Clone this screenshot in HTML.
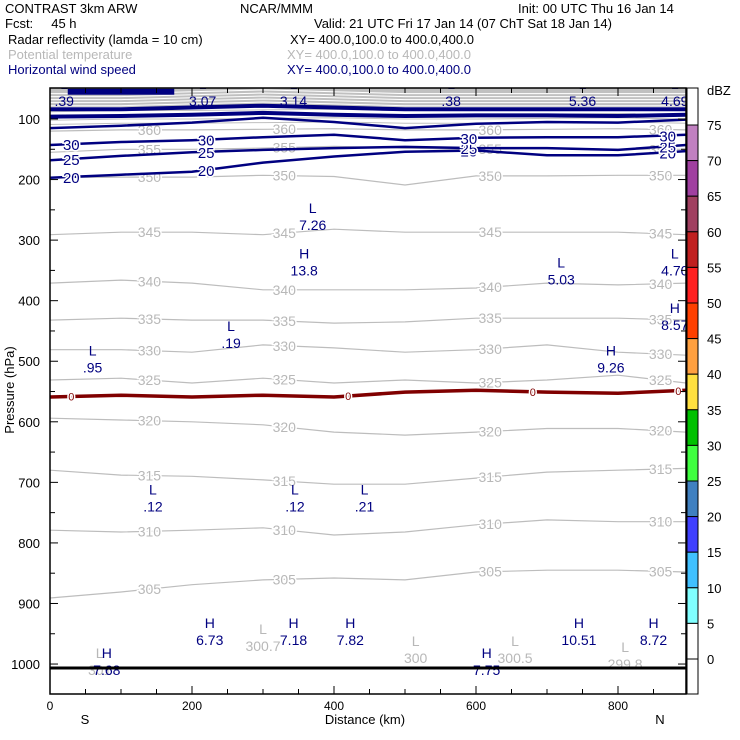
<!DOCTYPE html>
<html><head><meta charset="utf-8"><style>
body{margin:0;background:#fff;}
svg{display:block;font-family:"Liberation Sans",sans-serif;}
</style></head><body>
<svg id="c" width="740" height="740" viewBox="0 0 740 740" xmlns="http://www.w3.org/2000/svg">
<g font-size="13" fill="#000">
<text x="5" y="13">CONTRAST  3km ARW</text>
<text x="240" y="13">NCAR/MMM</text>
<text x="518" y="13">Init: 00 UTC Thu 16 Jan 14</text>
<text x="5" y="28" xml:space="preserve">Fcst:     45 h</text>
<text x="314" y="28">Valid: 21 UTC Fri 17 Jan 14 (07 ChT Sat 18 Jan 14)</text>
<text x="8" y="44">Radar reflectivity (lamda = 10 cm)</text>
<text x="290" y="44">XY= 400.0,100.0 to 400.0,400.0</text>
<text x="8" y="59" fill="#b8b8b8">Potential temperature</text>
<text x="287" y="59" fill="#b8b8b8">XY= 400.0,100.0 to 400.0,400.0</text>
<text x="8" y="74" fill="#000080">Horizontal wind speed</text>
<text x="287" y="74" fill="#000080">XY= 400.0,100.0 to 400.0,400.0</text>
</g>
<g id="plot"></g>
<g id="cbar"></g>
</svg>
<script>
const kmGrid=[0,100,200,300,400,500,600,700,800,900];
const thetaLevels=[360,355,350,345,340,335,330,325,320,315,310,305];
const theta360=[120,118,118,117,116,118,118,117,116,118];
const theta355=[155,150,150,148,145,148,150,148,150,150];
const theta350=[197,196,196,193,195,209,194,194,193,193];
const theta345=[291,287,287,291,282,287,287,287,287,291];
const theta340=[371,366,371,382,382,382,379,371,374,371];
const theta335=[432,429,432,432,437,435,429,429,429,432];
const theta330=[481,481,485,473,478,485,481,473,485,490];
const theta325=[531,528,536,528,536,531,536,531,523,536];
const theta320=[594,597,600,605,617,622,617,611,611,617];
const theta315=[680,688,690,696,703,703,693,683,680,677];
const theta310=[779,782,779,775,787,782,770,762,765,765];
const theta305=[891,881,869,861,858,861,848,845,845,848];
const thetaSeries=[theta360,theta355,theta350,theta345,theta340,theta335,theta330,theta325,theta320,theta315,theta310,theta305];
const freezing=[559,556,559,556,559,551,548,551,553,548];
const windLevels=[20,25,30,35,40,45];
const wind20=[197,192,187,172,162,154,152,160,160,153];
const wind25=[168,161,155,151,148,146,148,148,151,143];
const wind30=[143,138,135,130,126,135,131,130,130,126];
const wind35=[115,111,106,98,105,115,108,105,106,101];
const wind40=[96,95,93,90,93,95,94,94,95,93];
const wind45=[84,84,81,78,81,84,84,84,84,84];
const windSeries=[wind20,wind25,wind30,wind35,wind40,wind45];
const extremaLabels=[
 ["L",".39",20,70],["L","3.07",215,70],["L","3.14",343,70],["L",".38",565,70],["L","5.36",750,70],["L","4.69",880,70],
 ["L","7.26",370,275],["H","13.8",358,350],["L","5.03",720,365],["L","4.70",880,350],["H","8.57",880,440],
 ["L",".19",255,470],["L",".95",60,510],["H","9.26",790,510],
 ["L",".12",145,740],["L",".12",345,740],["L",".21",443,740],
 ["H","6.73",225,960],["H","7.18",343,960],["H","7.82",423,960],["H","10.51",745,960],["H","8.72",850,960],
 ["H","7.68",80,1010],["H","7.75",615,1010]];
const thetaMinLabels=[["L","300.7",300,970],["L","300",515,990],["L","300.5",655,990],["L","299.8",810,1000],["L","301",70,1010]];
const pTicks=[100,200,300,400,500,600,700,800,900,1000];
const xTicks=[0,200,400,600,800];
const dbzLevels=[75,70,65,60,55,50,45,40,35,30,25,20,15,10,5,0];
const dbzColors=["#c080c0","#a040a0","#a04060","#c02020","#ff2020","#ff4000","#ffa040","#ffe040","#00c000","#40ff40","#4080c0","#4040ff","#40c0ff","#80ffff","#ffffff"];

const NS="http://www.w3.org/2000/svg";
const X0=50,X1=686,Y0=88,Y1=694;
const xs=km=>X0+km*0.71;
const ys=p=>119+(p-100)*0.6056;
const plot=document.getElementById('plot');
function mk(tag,a,parent){const e=document.createElementNS(NS,tag);for(const k in a)e.setAttribute(k,a[k]);(parent||plot).appendChild(e);return e;}
function pathOf(arr){return arr.map((p,i)=>(i?'L':'M')+xs(Math.min(kmGrid[i],896)).toFixed(1)+','+ys(p).toFixed(1)).join(' ');}

const defs=mk('defs',{});
const cp=mk('clipPath',{id:'clip'},defs);mk('rect',{x:X0,y:Y0,width:X1-X0,height:Y1-Y0},cp);
const g=mk('g',{'clip-path':'url(#clip)'});

const band=mk('rect',{x:X0,y:Y0,width:X1-X0,height:ys(80)-Y0,fill:'#c0c0c0'},g);


for(let k=0;k<5;k++){
 const l=mk('path',{d:pathOf(wind45.map(v=>v-26+k*5)),stroke:'#fff','stroke-width':1,fill:'none'},g);
 
 
}
for(let k=0;k<4;k++){
 const l=mk('path',{d:pathOf(theta360.map(v=>v-32+k*7)),stroke:'#c0c0c0','stroke-width':1,fill:'none'},g);
 
 
}
thetaSeries.forEach((s,i)=>{
 const l=mk('path',{d:pathOf(s),stroke:'#bdbdbd','stroke-width':1.2,fill:'none'},g);
 
 
 [140,330,620,860].forEach(km=>{
  const idx=Math.min(8,Math.floor(km/100));const f=(km-kmGrid[idx])/100;
  const p=s[idx]+(s[idx+1]-s[idx])*f;
  const tt=mk('text',{x:xs(km),y:ys(p)+5,'font-size':14,fill:'#b8b8b8','text-anchor':'middle',stroke:'#fff','stroke-width':3,'paint-order':'stroke'},g);
  tt.textContent=thetaLevels[i];
  
  
 });
});
windSeries.forEach((s,i)=>{
 const l=mk('path',{d:pathOf(s),stroke:'#000080','stroke-width':i>=4?4:2.5,fill:'none'},g);
 
 
 if(i<3){[30,220,590,870].forEach(km=>{
  const idx=Math.min(8,Math.floor(km/100));const f=(km-kmGrid[idx])/100;
  const p=s[idx]+(s[idx+1]-s[idx])*f;
  const tt=mk('text',{x:xs(km),y:ys(p)+6,'font-size':15,fill:'#000080','text-anchor':'middle',stroke:'#fff','stroke-width':3,'paint-order':'stroke'},g);
  tt.textContent=windLevels[i];
  
  
 });}
});
const jet=mk('rect',{x:xs(25),y:ys(50),width:xs(175)-xs(25),height:6,fill:'#000080'},g);


const fz=mk('path',{d:pathOf(freezing),stroke:'#800000','stroke-width':3.5,fill:'none'},g);


[30,420,680,885].forEach(km=>{
 const idx=Math.min(8,Math.floor(km/100));const f=(km-kmGrid[idx])/100;
 const p=freezing[idx]+(freezing[idx+1]-freezing[idx])*f;
 const tt=mk('text',{x:xs(km),y:ys(p)+4,'font-size':11,fill:'#800000','text-anchor':'middle',stroke:'#fff','stroke-width':3,'paint-order':'stroke'},g);
 tt.textContent='0';
 
 
});
thetaMinLabels.forEach(a=>{
 const tt=mk('text',{x:xs(a[2]),y:ys(a[3])-12,'font-size':14,fill:'#b8b8b8','text-anchor':'middle'},g);
 tt.textContent=a[0];
 const v=mk('text',{x:xs(a[2]),y:ys(a[3])+5,'font-size':14,fill:'#b8b8b8','text-anchor':'middle'},g);
 v.textContent=a[1];
});
extremaLabels.forEach(a=>{
 const tt=mk('text',{x:xs(a[2]),y:ys(a[3])-12,'font-size':14,fill:'#000080','text-anchor':'middle'},g);
 tt.textContent=a[0];
 const v=mk('text',{x:xs(a[2]),y:ys(a[3])+5,'font-size':14,fill:'#000080','text-anchor':'middle'},g);
 v.textContent=a[1];
});
const gr=mk('line',{x1:X0,x2:X1,y1:668,y2:668,stroke:'#000','stroke-width':3},g);



const fr=mk('rect',{x:X0,y:Y0,width:X1-X0,height:Y1-Y0,fill:'none',stroke:'#000','stroke-width':1.5});


for(let p=100;p<=1000;p+=50){
 const major=p%100===0, L=major?8:5;
 const t1=mk('line',{x1:X0,x2:X0+L,y1:ys(p),y2:ys(p),stroke:'#000'});
 
 const t2=mk('line',{x1:X1-L,x2:X1,y1:ys(p),y2:ys(p),stroke:'#000'});
 
}
pTicks.forEach(p=>{
 const tt=mk('text',{x:40,y:ys(p)+5,'font-size':13,'text-anchor':'end'});
 tt.textContent=p;
});
for(let km=0;km<=896;km+=50){
 const L=km%200===0?8:5;
 const t1=mk('line',{x1:xs(km),x2:xs(km),y1:Y1-L,y2:Y1,stroke:'#000'});
 
 const t2=mk('line',{x1:xs(km),x2:xs(km),y1:Y0,y2:Y0+L,stroke:'#000'});
 
}
xTicks.forEach(km=>{
 const tt=mk('text',{x:xs(km),y:710,'font-size':12,'text-anchor':'middle'});
 tt.textContent=km;
});
let lbl=mk('text',{x:365,y:724,'font-size':13,'text-anchor':'middle'});lbl.textContent='Distance (km)';

lbl=mk('text',{x:85,y:724,'font-size':13,'text-anchor':'middle'});lbl.textContent='S';

lbl=mk('text',{x:660,y:724,'font-size':13,'text-anchor':'middle'});lbl.textContent='N';

lbl=mk('text',{x:14,y:390,'font-size':13,'text-anchor':'middle',transform:'rotate(-90 14 390)'});lbl.textContent='Pressure (hPa)';


const cb=document.getElementById('cbar');
const CY=v=>659-(v)*(534/75);
const cbTop=mk('rect',{x:687,y:88,width:11,height:CY(75)-88,fill:'#fff',stroke:'#000'},cb);

dbzColors.forEach((c,i)=>{
 const v=dbzLevels[i];
 const r=mk('rect',{x:687,y:CY(v),width:11,height:CY(v-5)-CY(v),fill:c,stroke:'#000'},cb);
 
});
const cbBot=mk('rect',{x:687,y:CY(0),width:11,height:694-CY(0),fill:'#fff',stroke:'#000'},cb);

dbzLevels.forEach(v=>{
 const tx=mk('text',{x:707,y:CY(v)+5,'font-size':13},cb);
 tx.textContent=v;
});
lbl=mk('text',{x:707,y:95,'font-size':13},cb);lbl.textContent='dBZ';

</script>
</body></html>
